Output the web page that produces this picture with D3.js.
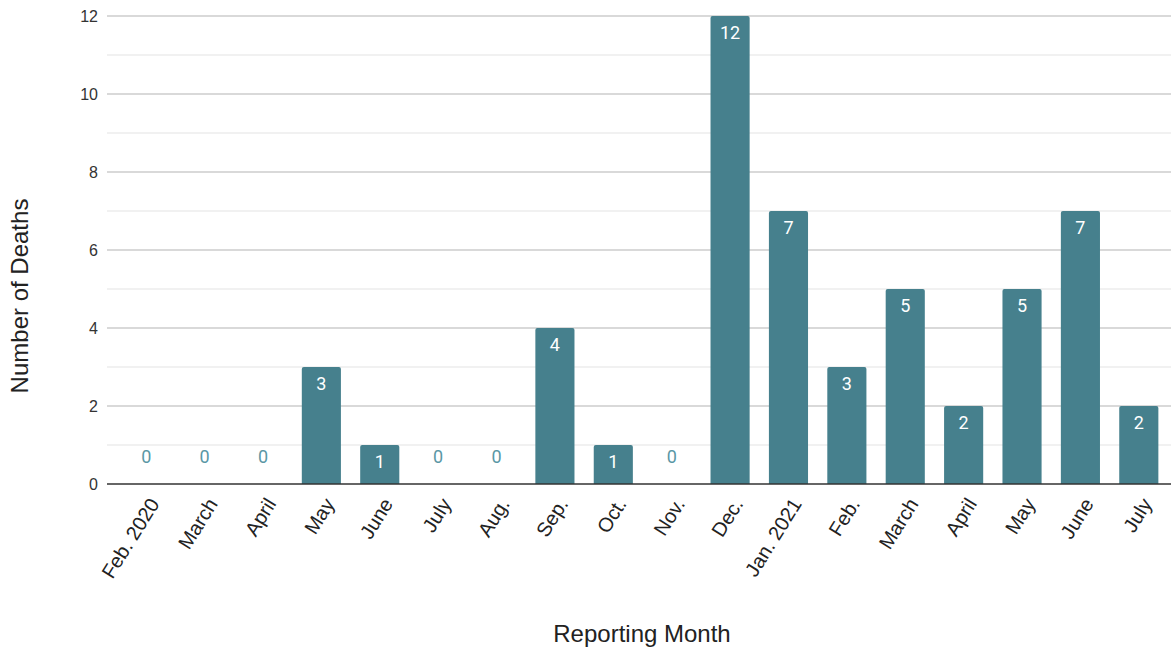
<!DOCTYPE html>
<html>
<head>
<meta charset="utf-8">
<script src="https://cdn.jsdelivr.net/npm/d3@7"></script>
<style>
  body { margin: 0; background: #fff; }
  svg { display: block; }
</style>
</head>
<body>
<div id="chart"></div>
<script>
// Deaths per reporting month
const months = ["Feb. 2020", "March", "April", "May", "June", "July", "Aug.", "Sep.", "Oct.", "Nov.",
  "Dec.", "Jan. 2021", "Feb.", "March ", "April ", "May ", "June ", "July "];
const deaths = [0, 0, 0, 3, 1, 0, 0, 4, 1, 0, 12, 7, 3, 5, 2, 5, 7, 2];
const yTicks = [0, 2, 4, 6, 8, 10, 12];
const yMinor = [1, 3, 5, 7, 9, 11];

const width = 1171, height = 651;
const barColor = "#46808d";
const arial = "'Liberation Sans', Arial, sans-serif";

const svg = d3.select("#chart").append("svg")
  .attr("width", width)
  .attr("height", height);

const x = d3.scaleBand()
  .domain(months)
  .range([117, 1168])
  .paddingInner(0.33)
  .paddingOuter(0.165);

const y = d3.scaleLinear()
  .domain([0, 12])
  .range([484, 16]);

// gridlines
svg.append("g").selectAll("line").data(yMinor).join("line")
  .attr("x1", 107).attr("x2", width)
  .attr("y1", d => y(d)).attr("y2", d => y(d))
  .attr("stroke", "#e3e3e3").attr("stroke-width", 1);

svg.append("g").selectAll("line").data(yTicks.filter(d => d > 0)).join("line")
  .attr("x1", 107).attr("x2", width)
  .attr("y1", d => y(d)).attr("y2", d => y(d))
  .attr("stroke", "#cccccc").attr("stroke-width", 1.3);

// y tick labels
svg.append("g").selectAll("text").data(yTicks).join("text")
  .attr("x", 98)
  .attr("y", d => y(d))
  .attr("dy", "0.35em")
  .attr("text-anchor", "end")
  .attr("font-family", arial)
  .attr("font-size", 16)
  .attr("fill", "#333")
  .text(d => d);

// bars with rounded tops
const r = 2;
svg.append("g").selectAll("path").data(deaths.map((v, i) => ({ m: months[i], v })).filter(d => d.v > 0)).join("path")
  .attr("fill", barColor)
  .attr("d", d => {
    const x0 = x(d.m), x1 = x0 + x.bandwidth(), y0 = y(0), y1 = y(d.v);
    return `M${x0},${y0}V${y1 + r}Q${x0},${y1} ${x0 + r},${y1}H${x1 - r}Q${x1},${y1} ${x1},${y1 + r}V${y0}Z`;
  });

// baseline
svg.append("line")
  .attr("x1", 107).attr("x2", width)
  .attr("y1", y(0)).attr("y2", y(0))
  .attr("stroke", "#333").attr("stroke-width", 1.5);

// value labels
svg.append("g").selectAll("text").data(deaths.map((v, i) => ({ m: months[i], v }))).join("text")
  .attr("x", d => x(d.m) + x.bandwidth() / 2)
  .attr("y", d => d.v > 0 ? y(d.v) + 23 : y(0) - 21)
  .attr("text-anchor", "middle")
  .attr("font-family", "Roboto, sans-serif")
  .attr("font-size", 18)
  .attr("fill", d => d.v > 0 ? "#ffffff" : "#5a97a5")
  .text(d => d.v);

// x tick labels
svg.append("g").selectAll("text").data(months).join("text")
  .attr("transform", d => `translate(${x(d) + x.bandwidth() / 2 + 8},${y(0) + 16}) rotate(-58)`)
  .attr("text-anchor", "end")
  .attr("dy", "0.35em")
  .attr("font-family", arial)
  .attr("font-size", 20)
  .attr("fill", "#222")
  .text(d => d.trim());

// axis titles
svg.append("text")
  .attr("x", 642).attr("y", 642)
  .attr("text-anchor", "middle")
  .attr("font-family", arial)
  .attr("font-size", 24)
  .attr("fill", "#222")
  .text("Reporting Month");

svg.append("text")
  .attr("transform", "translate(28,296) rotate(-90)")
  .attr("text-anchor", "middle")
  .attr("font-family", arial)
  .attr("font-size", 24)
  .attr("fill", "#222")
  .text("Number of Deaths");
</script>
</body>
</html>
